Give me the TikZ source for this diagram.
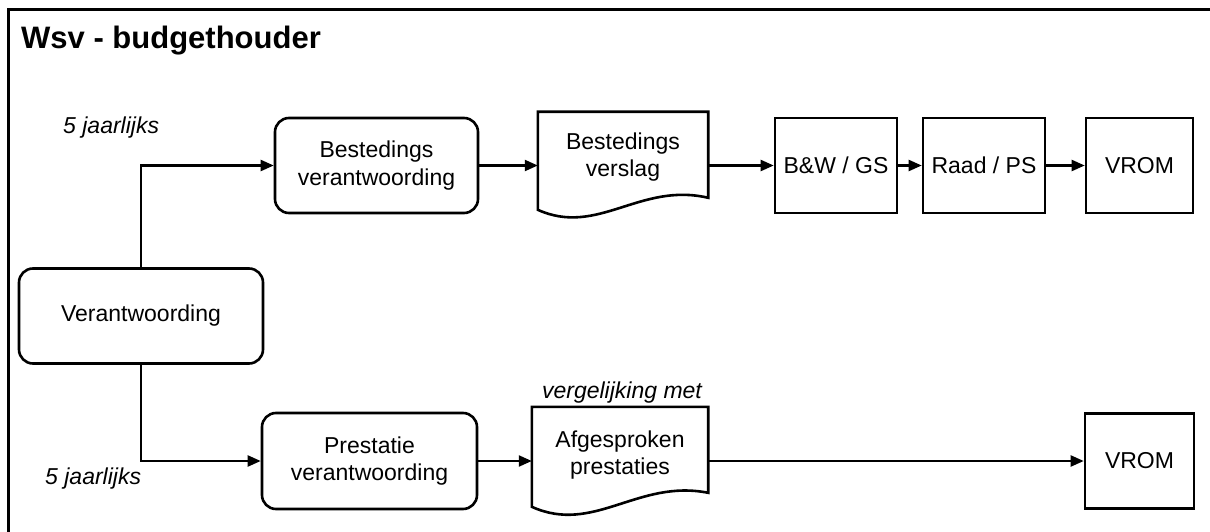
\documentclass[tikz,border=0pt]{standalone}
\usepackage{fontspec}
\setmainfont{Liberation Sans}
\usetikzlibrary{arrows.meta,calc}
\newcommand\bodyfont{\fontsize{23}{27.5}\selectfont}
\begin{document}
\begin{tikzpicture}[x=1pt,y=-1pt,
  box/.style={draw,line width=2.6pt,minimum height=95pt,inner sep=0pt,align=center,font=\bodyfont},
  rbox/.style={box,rounded corners=14pt},
  docnode/.style={inner sep=0pt,align=center,font=\bodyfont},
  docline/.style={line width=2.6pt,line join=miter},
  conn/.style={line width=2.2pt,-{Triangle[length=13pt,width=11pt]}},
  lbl/.style={font=\bodyfont\itshape,inner sep=0pt}]
\clip (0,0) rectangle (1210,532);
\draw[line width=3pt] (8,10) rectangle (1240,560);
\node[anchor=base west,inner sep=0pt,font=\bfseries\fontsize{31}{37}\selectfont] (title) at (21,49) {Wsv - budgethouder};

\node[rbox,minimum width=244pt] (verant) at (141,316) {Verantwoording};
\node[rbox,minimum width=203pt] (bv) at (376.5,165.5) {Bestedings\\verantwoording};
\node[rbox,minimum width=215pt,minimum height=96pt] (pv) at (369.5,461) {Prestatie\\verantwoording};

\node[docnode,minimum width=170pt,minimum height=90pt] (bvs) at (623,157) {Bestedings\\verslag};
\draw[docline] (bvs.north west) -- ($(bvs.north west)+(0,98)$)
  .. controls ($(bvs.north west)+(60,125)$) and ($(bvs.north west)+(102,70)$) .. ($(bvs.north east)+(0,86)$)
  -- (bvs.north east) -- cycle;

\node[docnode,minimum width=176pt,minimum height=96pt] (afg) at (620,455) {Afgesproken\\prestaties};
\draw[docline] (afg.north west) -- ($(afg.north west)+(0,100)$)
  .. controls ($(afg.north west)+(62,128)$) and ($(afg.north west)+(106,72)$) .. ($(afg.north east)+(0,86)$)
  -- (afg.north east) -- cycle;

\node[box,minimum width=122pt] (bw) at (836,165.5) {B\&W / GS};
\node[box,minimum width=122pt] (raad) at (984,165.5) {Raad / PS};
\node[box,minimum width=107pt] (vrom1) at (1139.5,165.5) {VROM};
\node[box,minimum width=109pt] (vrom2) at (1139.5,461) {VROM};

\node[lbl,anchor=west] (j1) at (63,128) {5 jaarlijks};
\node[lbl,anchor=west] (j2) at (45,479) {5 jaarlijks};
\node[lbl,anchor=base] (verg) at (622,398) {vergelijking met};

\draw[conn] (verant.north) |- (bv.west);
\draw[conn] (verant.south) |- (pv.west);
\draw[conn] (bv.east) -- (bv.east -| bvs.west);
\draw[conn] (bvs.east |- bw.west) -- (bw.west);
\draw[conn] (bw.east) -- (raad.west);
\draw[conn] (raad.east) -- (vrom1.west);
\draw[conn] (pv.east) -- (pv.east -| afg.west);
\draw[conn] (afg.east |- vrom2.west) -- (vrom2.west);
\end{tikzpicture}
\end{document}
